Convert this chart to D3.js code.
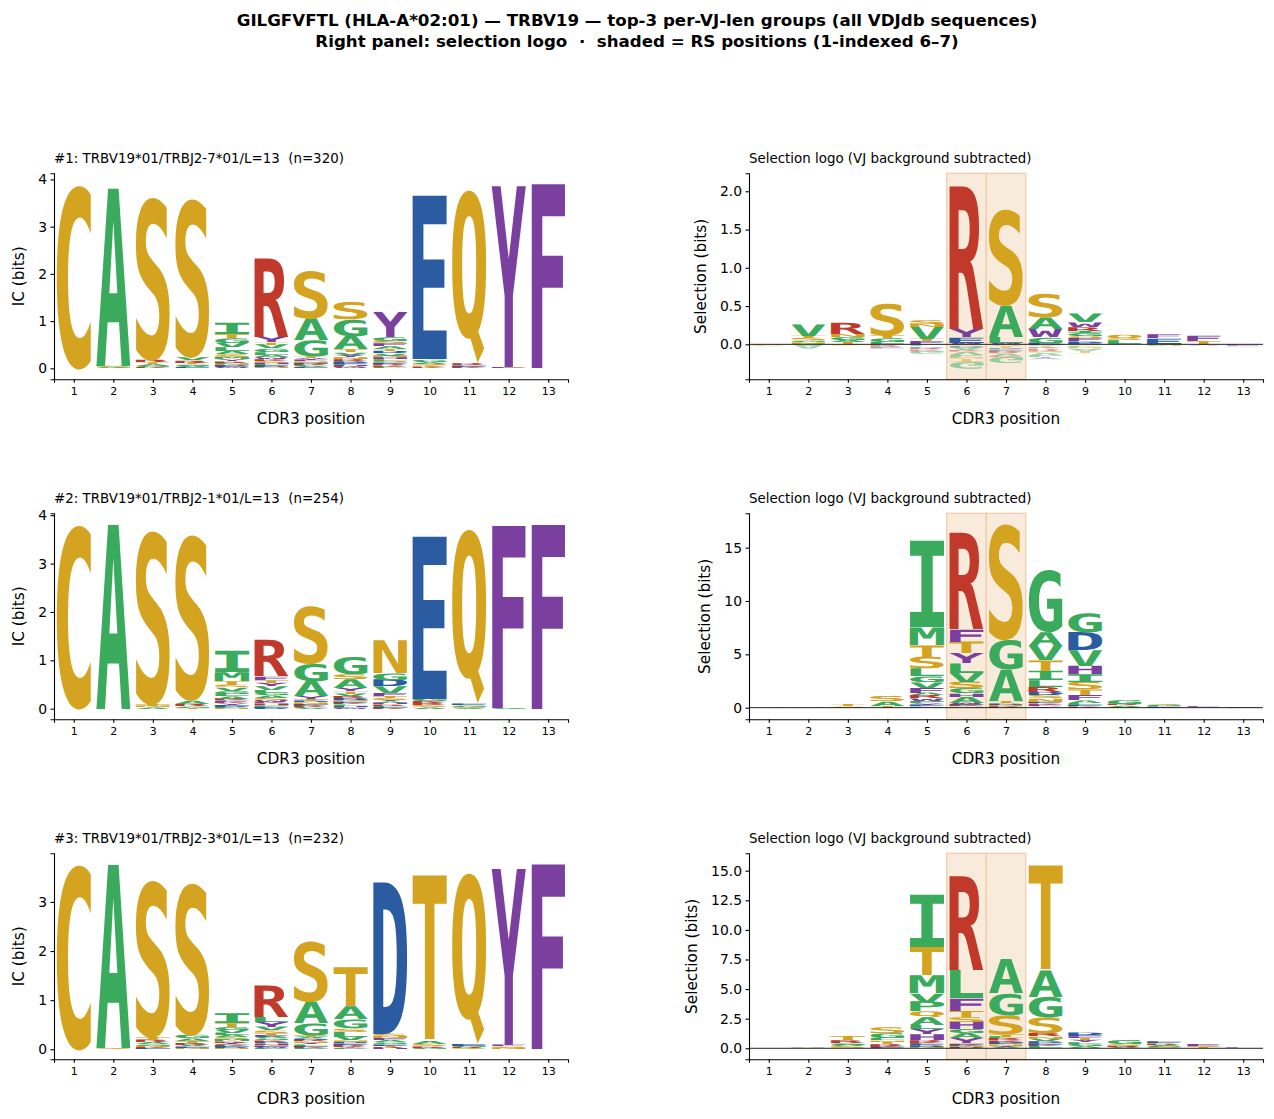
<!DOCTYPE html>
<html>
<head>
<meta charset="utf-8">
<script src="https://cdn.jsdelivr.net/npm/d3@7"></script>
<style>
body { margin: 0; background: #fff; }
text { font-family: "DejaVu Sans", sans-serif; white-space: pre; }
</style>
</head>
<body>
<svg id="chart" width="1274" height="1119"></svg>
<script>
// CDR3 positions 1..13
var positions = d3.range(1, 14);

var titleLines = [
    "GILGFVFTL (HLA-A*02:01) \u2014 TRBV19 \u2014 top-3 per-VJ-len groups (all VDJdb sequences)",
    "Right panel: selection logo  \u00b7  shaded = RS positions (1-indexed 6\u20137)"
];
var groupTitles = [
    "#1: TRBV19*01/TRBJ2-7*01/L=13  (n=320)",
    "#2: TRBV19*01/TRBJ2-1*01/L=13  (n=254)",
    "#3: TRBV19*01/TRBJ2-3*01/L=13  (n=232)"
];
var selTitle = "Selection logo (VJ background subtracted)";
var rsPositions = [6, 7];

// IC logos: per position, letters from the bottom of the stack up, height in bits
var icLogo1 = [
    [["C", 3.90]],
    [["G", 0.02], ["S", 0.03], ["A", 3.76]],
    [["K", 0.02], ["G", 0.03], ["A", 0.04], ["T", 0.04], ["R", 0.05], ["S", 3.47]],
    [["E", 0.02], ["A", 0.03], ["G", 0.03], ["T", 0.04], ["R", 0.05], ["V", 0.06], ["S", 3.37]],
    [["W", 0.02], ["E", 0.02], ["D", 0.02], ["N", 0.03], ["P", 0.03], ["R", 0.03], ["Y", 0.04], ["M", 0.05], ["S", 0.06], ["A", 0.07], ["L", 0.08], ["V", 0.09], ["G", 0.10], ["T", 0.08], ["I", 0.24]],
    [["N", 0.02], ["D", 0.02], ["E", 0.02], ["P", 0.03], ["H", 0.03], ["S", 0.04], ["K", 0.04], ["W", 0.04], ["A", 0.05], ["L", 0.06], ["G", 0.07], ["V", 0.08], ["T", 0.05], ["Y", 0.12], ["R", 1.69]],
    [["E", 0.02], ["V", 0.02], ["L", 0.02], ["R", 0.03], ["D", 0.03], ["N", 0.03], ["F", 0.03], ["Y", 0.04], ["T", 0.04], ["G", 0.34], ["A", 0.46], ["S", 1.02]],
    [["W", 0.02], ["K", 0.02], ["H", 0.02], ["L", 0.03], ["E", 0.03], ["D", 0.04], ["R", 0.04], ["N", 0.04], ["Y", 0.05], ["V", 0.05], ["T", 0.06], ["A", 0.28], ["G", 0.35], ["S", 0.37]],
    [["P", 0.03], ["K", 0.03], ["R", 0.03], ["E", 0.03], ["Q", 0.03], ["L", 0.04], ["H", 0.04], ["N", 0.04], ["V", 0.05], ["D", 0.05], ["T", 0.04], ["A", 0.06], ["F", 0.06], ["S", 0.05], ["G", 0.08], ["Y", 0.53]],
    [["K", 0.03], ["T", 0.03], ["S", 0.04], ["A", 0.04], ["G", 0.05], ["E", 3.46]],
    [["K", 0.03], ["E", 0.03], ["R", 0.04], ["Q", 3.69]],
    [["S", 0.015], ["F", 0.02], ["Y", 3.835]],
    [["F", 3.90]]
];
var icLogo2 = [
    [["C", 3.81]],
    [["A", 3.81]],
    [["A", 0.03], ["N", 0.03], ["T", 0.04], ["S", 3.61]],
    [["T", 0.02], ["G", 0.03], ["R", 0.05], ["A", 0.07], ["S", 3.44]],
    [["N", 0.02], ["P", 0.02], ["D", 0.02], ["E", 0.02], ["Y", 0.03], ["K", 0.03], ["F", 0.03], ["R", 0.04], ["A", 0.05], ["L", 0.05], ["G", 0.06], ["V", 0.07], ["S", 0.05], ["T", 0.08], ["M", 0.18], ["I", 0.44]],
    [["D", 0.02], ["E", 0.02], ["P", 0.02], ["N", 0.02], ["H", 0.03], ["K", 0.03], ["W", 0.04], ["S", 0.05], ["A", 0.05], ["G", 0.05], ["L", 0.06], ["V", 0.08], ["Y", 0.07], ["T", 0.06], ["F", 0.07], ["R", 0.76]],
    [["V", 0.02], ["L", 0.02], ["K", 0.02], ["R", 0.02], ["E", 0.02], ["N", 0.03], ["D", 0.03], ["T", 0.04], ["Y", 0.06], ["A", 0.31], ["G", 0.36], ["S", 1.20]],
    [["W", 0.02], ["P", 0.02], ["H", 0.02], ["L", 0.03], ["K", 0.03], ["E", 0.03], ["N", 0.03], ["D", 0.04], ["R", 0.04], ["V", 0.05], ["T", 0.05], ["Y", 0.07], ["A", 0.18], ["S", 0.10], ["G", 0.36]],
    [["K", 0.02], ["E", 0.02], ["L", 0.02], ["R", 0.03], ["H", 0.03], ["A", 0.03], ["Y", 0.03], ["S", 0.04], ["T", 0.04], ["F", 0.06], ["V", 0.14], ["D", 0.14], ["G", 0.14], ["N", 0.68]],
    [["A", 0.03], ["S", 0.04], ["R", 0.04], ["K", 0.04], ["G", 0.06], ["E", 3.36]],
    [["A", 0.02], ["S", 0.02], ["G", 0.03], ["E", 0.03], ["Q", 3.62]],
    [["G", 0.02], ["F", 3.77]],
    [["F", 3.81]]
];
var icLogo3 = [
    [["C", 3.78]],
    [["S", 0.02], ["A", 3.73]],
    [["E", 0.02], ["K", 0.02], ["N", 0.03], ["G", 0.03], ["A", 0.04], ["R", 0.05], ["T", 0.06], ["S", 3.21]],
    [["N", 0.03], ["E", 0.03], ["V", 0.03], ["R", 0.04], ["T", 0.04], ["A", 0.05], ["G", 0.07], ["S", 3.11]],
    [["N", 0.02], ["D", 0.02], ["E", 0.02], ["K", 0.02], ["P", 0.02], ["Y", 0.03], ["R", 0.03], ["M", 0.04], ["S", 0.04], ["A", 0.05], ["L", 0.05], ["V", 0.06], ["G", 0.06], ["T", 0.08], ["I", 0.20]],
    [["P", 0.02], ["W", 0.02], ["E", 0.02], ["N", 0.03], ["H", 0.03], ["D", 0.03], ["K", 0.03], ["G", 0.04], ["A", 0.04], ["F", 0.04], ["T", 0.04], ["S", 0.05], ["V", 0.07], ["Y", 0.10], ["L", 0.10], ["R", 0.65]],
    [["Q", 0.01], ["P", 0.02], ["K", 0.02], ["E", 0.02], ["L", 0.03], ["Y", 0.03], ["N", 0.03], ["R", 0.03], ["D", 0.03], ["V", 0.03], ["T", 0.04], ["G", 0.24], ["A", 0.44], ["S", 1.24]],
    [["P", 0.02], ["Y", 0.02], ["K", 0.02], ["R", 0.03], ["E", 0.03], ["D", 0.03], ["N", 0.03], ["V", 0.08], ["L", 0.10], ["S", 0.07], ["G", 0.18], ["A", 0.26], ["T", 0.80]],
    [["H", 0.02], ["R", 0.02], ["T", 0.03], ["E", 0.03], ["G", 0.04], ["A", 0.04], ["F", 0.04], ["N", 0.04], ["S", 0.05], ["D", 3.09]],
    [["G", 0.03], ["R", 0.03], ["S", 0.04], ["A", 0.06], ["T", 3.38]],
    [["S", 0.02], ["R", 0.02], ["G", 0.03], ["E", 0.04], ["Q", 3.50]],
    [["N", 0.03], ["S", 0.03], ["F", 0.03], ["Y", 3.59]],
    [["F", 3.76]]
];

// selection logos: positive values stack up from 0, negative values stack down from 0
var selLogo1 = [
    [["S", -0.03]],
    [["A", -0.06], ["Q", 0.01], ["N", 0.02], ["G", 0.02], ["S", 0.03], ["T", 0.03], ["V", 0.15]],
    [["S", -0.02], ["T", 0.03], ["A", 0.03], ["G", 0.04], ["N", 0.04], ["R", 0.15]],
    [["R", -0.04], ["E", -0.02], ["L", 0.03], ["G", 0.05], ["T", 0.04], ["S", 0.42]],
    [["L", -0.03], ["D", -0.02], ["R", -0.02], ["K", -0.02], ["G", -0.04], ["F", 0.04], ["T", 0.03], ["V", 0.16], ["N", 0.04], ["S", 0.05]],
    [["S", -0.02], ["D", -0.02], ["A", -0.04], ["K", -0.02], ["V", -0.04], ["L", -0.03], ["N", -0.02], ["T", -0.04], ["G", -0.09], ["W", 0.02], ["E", 0.07], ["Y", 0.11], ["R", 1.89]],
    [["Y", -0.02], ["T", -0.03], ["D", -0.02], ["E", -0.02], ["R", -0.03], ["V", -0.03], ["K", -0.01], ["G", -0.08], ["W", 0.02], ["L", 0.08], ["A", 0.41], ["S", 1.26]],
    [["D", -0.02], ["T", -0.02], ["K", -0.02], ["R", -0.03], ["N", -0.02], ["V", -0.03], ["L", -0.03], ["Y", -0.03], ["E", 0.02], ["G", 0.07], ["W", 0.11], ["A", 0.15], ["S", 0.31]],
    [["S", -0.02], ["L", -0.02], ["N", -0.02], ["A", -0.03], ["T", -0.03], ["E", 0.02], ["D", 0.02], ["F", 0.04], ["Q", 0.03], ["G", 0.04], ["I", 0.03], ["R", 0.05], ["W", 0.06], ["V", 0.11]],
    [["L", 0.05], ["S", 0.02], ["Q", 0.05]],
    [["N", -0.03], ["S", 0.01], ["E", 0.07], ["F", 0.05]],
    [["Y", -0.02], ["T", 0.04], ["F", 0.07]],
    [["F", -0.03]]
];
var selLogo2 = [
    [["S", 0.04]],
    [["G", 0.04]],
    [["S", 0.14], ["T", 0.20]],
    [["T", 0.20], ["A", 0.40], ["S", 0.49]],
    [["D", 0.12], ["E", 0.15], ["Y", 0.15], ["P", 0.20], ["W", 0.25], ["R", 0.30], ["A", 0.25], ["F", 0.47], ["V", 0.53], ["G", 0.53], ["L", 0.72], ["S", 1.10], ["T", 1.10], ["M", 1.65], ["I", 8.10]],
    [["N", 0.12], ["K", 0.10], ["E", 0.10], ["W", 0.15], ["A", 0.56], ["H", 0.31], ["G", 0.47], ["S", 0.63], ["V", 0.84], ["L", 0.88], ["Y", 0.94], ["T", 1.10], ["F", 1.15], ["R", 9.16]],
    [["R", 0.10], ["K", 0.08], ["N", 0.10], ["D", 0.15], ["T", 0.20], ["A", 2.94], ["G", 2.80], ["S", 10.90]],
    [["Y", 0.13], ["F", 0.13], ["K", 0.15], ["E", 0.15], ["N", 0.31], ["S", 0.31], ["D", 0.31], ["R", 0.47], ["L", 0.63], ["I", 0.87], ["T", 1.00], ["V", 1.34], ["A", 1.30], ["G", 5.85]],
    [["K", 0.15], ["E", 0.12], ["L", 0.20], ["A", 0.25], ["F", 0.47], ["T", 0.53], ["S", 0.72], ["I", 0.72], ["H", 0.78], ["V", 1.47], ["D", 1.70], ["G", 1.80]],
    [["S", 0.10], ["A", 0.13], ["R", 0.15], ["G", 0.40]],
    [["E", 0.15], ["G", 0.12], ["S", 0.07]],
    [["G", 0.04], ["F", 0.08]],
    [["F", 0.06]]
];
var selLogo3 = [
    [],
    [["G", 0.03], ["S", 0.05]],
    [["S", 0.16], ["A", 0.15], ["G", 0.15], ["R", 0.24], ["T", 0.34]],
    [["E", 0.10], ["K", 0.12], ["R", 0.15], ["T", 0.20], ["N", 0.10], ["L", 0.18], ["G", 0.42], ["S", 0.50]],
    [["N", 0.15], ["D", 0.15], ["E", 0.15], ["K", 0.10], ["R", 0.15], ["H", 0.48], ["Y", 0.42], ["L", 0.37], ["A", 0.65], ["Q", 0.48], ["P", 0.84], ["V", 0.70], ["M", 1.50], ["T", 2.39], ["I", 4.42]],
    [["D", 0.10], ["N", 0.10], ["K", 0.12], ["E", 0.10], ["Y", 0.42], ["A", 0.42], ["G", 0.34], ["H", 0.65], ["S", 0.42], ["T", 0.51], ["F", 1.04], ["L", 2.39], ["R", 8.03]],
    [["V", 0.10], ["Y", 0.10], ["N", 0.13], ["E", 0.10], ["D", 0.12], ["K", 0.12], ["R", 0.17], ["L", 0.15], ["T", 0.22], ["S", 1.60], ["G", 1.83], ["A", 2.87]],
    [["L", 0.20], ["K", 0.12], ["E", 0.15], ["D", 0.15], ["V", 0.20], ["N", 0.20], ["R", 0.25], ["S", 1.35], ["G", 1.74], ["A", 2.25], ["T", 8.87]],
    [["A", 0.15], ["G", 0.20], ["L", 0.15], ["Y", 0.20], ["T", 0.20], ["F", 0.15], ["E", 0.08], ["D", 0.22]],
    [["A", 0.10], ["R", 0.10], ["S", 0.15], ["G", 0.35]],
    [["S", 0.10], ["G", 0.10], ["A", 0.09], ["R", 0.12], ["E", 0.15]],
    [["T", 0.10], ["S", 0.10], ["F", 0.17]],
    [["F", 0.05]]
];

var icTicks = [[0, 1, 2, 3, 4], [0, 1, 2, 3, 4], [0, 1, 2, 3]];
var selTicks = [[0, 0.5, 1, 1.5, 2], [0, 5, 10, 15], [0, 2.5, 5, 7.5, 10, 12.5, 15]];
var selTickFormat = [".1f", "d", ".1f"];

var icLogos = [icLogo1, icLogo2, icLogo3];
var selLogos = [selLogo1, selLogo2, selLogo3];
var icDomains = [[-0.233, 4.13], [-0.219, 4.04], [-0.204, 3.99]];
var selDomains = [[-0.457, 2.235], [-1.09, 18.22], [-0.93, 16.47]];

// residue colours
var residueGroup = {
    C: "polar", S: "polar", T: "polar", N: "polar", Q: "polar",
    A: "hydro", G: "hydro", I: "hydro", L: "hydro", M: "hydro", V: "hydro", P: "hydro",
    R: "basic", K: "basic",
    D: "acidic", E: "acidic",
    F: "arom", W: "arom", Y: "arom", H: "arom"
};
var groupColor = { polar: "#d4a421", hydro: "#3aab5c", basic: "#c0392b", acidic: "#2b5ba0", arom: "#7b3f9f" };

var svg = d3.select("#chart");
var leftRange = [54, 568], rightRange = [749, 1263];
var panelTops = [173.3, 513.3, 853.3], panelH = 206;
var glyphFont = "DejaVu Sans Mono";

// tight glyph boxes measured on a canvas so letters fill their boxes
var ctx = document.createElement("canvas").getContext("2d");
ctx.font = "bold 100px '" + glyphFont + "'";
var glyphBox = {};
function glyph(L) {
    if (!glyphBox[L]) {
        var m = ctx.measureText(L);
        glyphBox[L] = {
            l: m.actualBoundingBoxLeft,
            w: m.actualBoundingBoxLeft + m.actualBoundingBoxRight,
            a: m.actualBoundingBoxAscent,
            h: m.actualBoundingBoxAscent + m.actualBoundingBoxDescent
        };
    }
    return glyphBox[L];
}

function stackLetters(logo) {
    var out = [];
    logo.forEach(function (stack, i) {
        var up = 0, down = 0;
        stack.forEach(function (d) {
            var v = d[1];
            if (v >= 0) {
                out.push({ pos: positions[i], letter: d[0], lo: up, hi: up + v, neg: false });
                up += v;
            } else {
                out.push({ pos: positions[i], letter: d[0], lo: down + v, hi: down, neg: true });
                down += v;
            }
        });
    });
    return out;
}

function drawPanel(range, top, domain, ticks, fmt, logo, title, ylabel, shade) {
    var x = d3.scaleLinear().domain([0.5, 13.5]).range(range);
    var y = d3.scaleLinear().domain(domain).range([top + panelH, top]);
    var g = svg.append("g");
    var bw = (x(2) - x(1)) * 0.87;

    if (shade) {
        g.selectAll(".rs").data(rsPositions).enter().append("rect")
            .attr("x", function (p) { return x(p - 0.5); })
            .attr("y", top)
            .attr("width", x(1.5) - x(0.5))
            .attr("height", panelH)
            .attr("fill", "#f9ebdc")
            .attr("stroke", "#f0cba6")
            .attr("stroke-width", 1.2);
    }

    g.selectAll(".glyph").data(stackLetters(logo)).enter().append("text")
        .attr("class", "glyph")
        .style("font-family", "'" + glyphFont + "'")
        .attr("font-size", 100)
        .attr("font-weight", "bold")
        .attr("text-rendering", "geometricPrecision")
        .attr("x", function (d) { return glyph(d.letter).l; })
        .attr("y", function (d) { return glyph(d.letter).a; })
        .attr("fill", function (d) { return groupColor[residueGroup[d.letter]]; })
        .attr("fill-opacity", function (d) { return d.neg ? 0.5 : 1; })
        .attr("transform", function (d) {
            var m = glyph(d.letter);
            var x0 = x(d.pos) - bw / 2, y0 = y(d.hi), h = y(d.lo) - y(d.hi);
            var sx = bw / m.w, sy = h / m.h;
            if (d.neg) return "translate(" + x0 + "," + (y0 + h) + ") scale(" + sx + "," + (-sy) + ")";
            return "translate(" + x0 + "," + y0 + ") scale(" + sx + "," + sy + ")";
        })
        .text(function (d) { return d.letter; });

    if (shade) {
        g.append("line")
            .attr("x1", range[0]).attr("x2", range[1])
            .attr("y1", y(0)).attr("y2", y(0))
            .attr("stroke", "#222").attr("stroke-width", 1);
    }

    var xa = g.append("g")
        .attr("transform", "translate(0," + (top + panelH) + ")")
        .call(d3.axisBottom(x).tickValues(positions).tickSizeOuter(0).tickSize(3.5).tickPadding(4));
    xa.selectAll("text").attr("font-size", 11).attr("fill", "#000");

    var ya = g.append("g")
        .attr("transform", "translate(" + range[0] + ",0)")
        .call(d3.axisLeft(y).tickValues(ticks).tickFormat(d3.format(fmt)).tickSizeOuter(0).tickSize(3.5).tickPadding(3.5));
    ya.selectAll("text").attr("font-size", 13.9).attr("fill", "#000");

    g.selectAll(".domain").attr("stroke", "#000").attr("stroke-width", 1.1);
    g.selectAll(".tick line").attr("stroke", "#000").attr("stroke-width", 1.1);

    // y label sits left of the widest tick label
    var tickLeft = d3.min(ya.selectAll("text").nodes(), function (n) {
        return range[0] + n.getBBox().x;
    });

    g.append("text")
        .attr("x", range[0]).attr("y", top - 10)
        .attr("font-size", 13.4)
        .text(title);

    g.append("text")
        .attr("x", (range[0] + range[1]) / 2).attr("y", top + panelH + 45)
        .attr("text-anchor", "middle")
        .attr("font-size", 15.3)
        .text("CDR3 position");

    g.append("text")
        .attr("transform", "translate(" + (tickLeft - 14) + "," + (top + panelH / 2) + ") rotate(-90)")
        .attr("text-anchor", "middle")
        .attr("font-size", 15.3)
        .text(ylabel);
}

for (var k = 0; k < 3; k++) {
    drawPanel(leftRange, panelTops[k], icDomains[k], icTicks[k], "d", icLogos[k], groupTitles[k], "IC (bits)", false);
    drawPanel(rightRange, panelTops[k], selDomains[k], selTicks[k], selTickFormat[k], selLogos[k], selTitle, "Selection (bits)", true);
}

svg.selectAll(".suptitle").data(titleLines).enter().append("text")
    .attr("x", 637)
    .attr("y", function (d, i) { return 26 + i * 21; })
    .attr("text-anchor", "middle")
    .attr("font-size", 16.67)
    .attr("font-weight", "bold")
    .text(function (d) { return d; });
</script>
</body>
</html>
